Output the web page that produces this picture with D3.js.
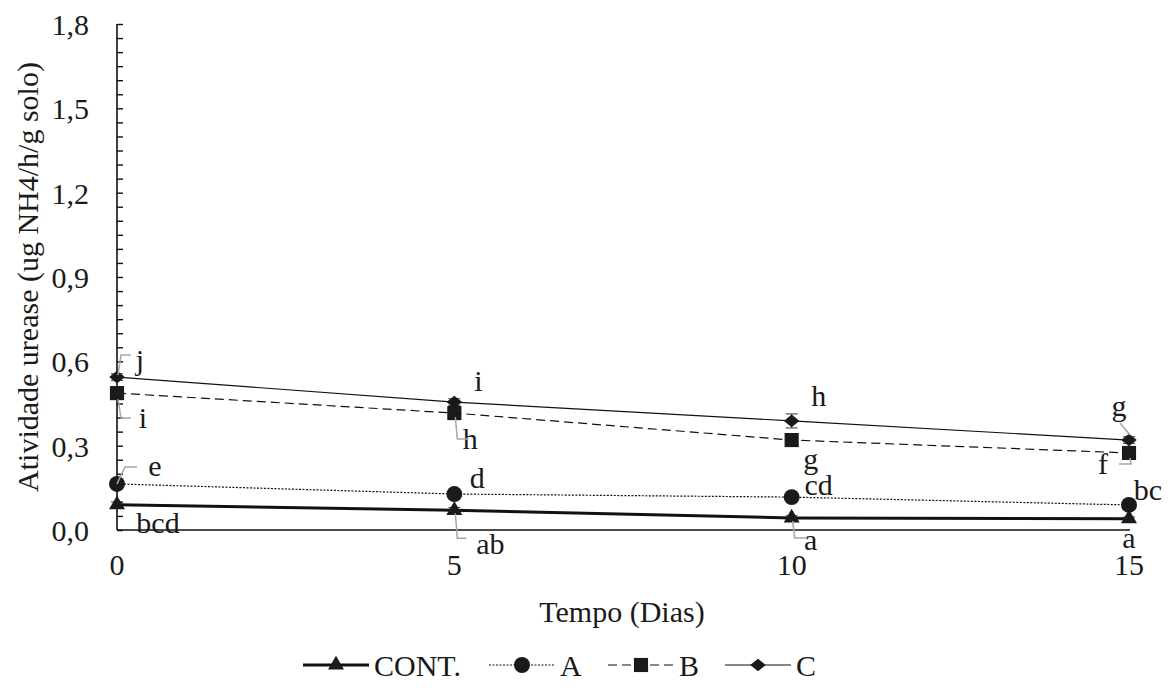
<!DOCTYPE html>
<html lang="en">
<head>
<script src="https://cdn.jsdelivr.net/npm/d3@7"></script>
</head>
<body style="margin:0">
<svg id="chart" width="1175" height="699"></svg>
<script>
var days = [0, 5, 10, 15];
var yTicks = [0, 0.3, 0.6, 0.9, 1.2, 1.5, 1.8];

var contVals = [0.09, 0.07, 0.043, 0.04];
var aVals = [0.164, 0.128, 0.117, 0.089];
var bVals = [0.487, 0.416, 0.32, 0.274];
var cVals = [0.544, 0.455, 0.388, 0.32];

var contErr = [0.01, 0.01, 0.008, 0.006];
var aErr = [0.01, 0.008, 0.008, 0.008];
var bErr = [0.015, 0.012, 0.015, 0.012];
var cErr = [0.012, 0.012, 0.025, 0.012];

var contLetters = ["bcd", "ab", "a", "a"];
var aLetters = ["e", "d", "cd", "bc"];
var bLetters = ["i", "h", "g", "f"];
var cLetters = ["j", "i", "h", "g"];

var fontNames = ["Liberation Serif"];
var FS = 30;

var svg = d3.select("#chart");
var x = d3.scaleLinear().domain([0, 15]).range([117, 1129]);
var y = d3.scaleLinear().domain([0, 1.8]).range([530, 24]);

// wide diamond like the original marker
var diamond = {
  draw: function(ctx, size) {
    var r = Math.sqrt(size) / 2;
    ctx.moveTo(0, -r * 0.85); ctx.lineTo(r * 1.05, 0); ctx.lineTo(0, r * 0.85); ctx.lineTo(-r * 1.05, 0); ctx.closePath();
  }
};

function txt(sel) {
  return sel.attr("font-family", function() { return fontNames[0]; })
    .attr("font-size", FS).attr("fill", "#1a1a1a");
}

// axes
var yAxis = svg.append("g").attr("transform", "translate(117,0)")
  .call(d3.axisRight(y).tickValues(d3.range(0, 1.8001, 0.05)).tickSize(6).tickFormat(""));
yAxis.select(".domain").attr("d", "M0,24V530").attr("stroke", "#111").attr("stroke-width", 1.6);
yAxis.selectAll(".tick line").attr("stroke", "#111").attr("stroke-width", 1.4);

svg.append("line").attr("x1", 117).attr("x2", 1130).attr("y1", 530).attr("y2", 530)
  .attr("stroke", "#111").attr("stroke-width", 1.6);

txt(svg.selectAll(".ylab").data(yTicks).enter().append("text"))
  .attr("x", 89).attr("y", function(d) { return y(d) + 11; })
  .attr("text-anchor", "end")
  .text(function(d) { return d3.format(".1f")(d).replace(".", ","); });

txt(svg.selectAll(".xlab").data(days).enter().append("text"))
  .attr("x", function(d) { return x(d); }).attr("y", 575)
  .attr("text-anchor", "middle")
  .text(function(d) { return d; });

txt(svg.append("text")).attr("x", 622).attr("y", 622).attr("text-anchor", "middle")
  .text("Tempo (Dias)");
txt(svg.append("text")).attr("transform", "translate(38,277) rotate(-90)")
  .attr("text-anchor", "middle")
  .text("Atividade urease (ug NH4/h/g solo)");

var series = [
  { name: "CONT.", vals: contVals, err: contErr, width: 3, dash: null, sym: d3.symbolTriangle, size: 110 },
  { name: "A", vals: aVals, err: aErr, width: 1.2, dash: "2,1.5", sym: d3.symbolCircle, size: 200 },
  { name: "B", vals: bVals, err: bErr, width: 1.2, dash: "9,5", sym: d3.symbolSquare, size: 200 },
  { name: "C", vals: cVals, err: cErr, width: 1.2, dash: null, sym: diamond, size: 220 }
];

var line = d3.line().x(function(d, i) { return x(days[i]); }).y(function(d) { return y(d); });

series.forEach(function(s) {
  svg.append("path").datum(s.vals).attr("d", line).attr("fill", "none")
    .attr("stroke", "#111").attr("stroke-width", s.width)
    .attr("stroke-dasharray", s.dash);
});

// error bars
series.forEach(function(s) {
  s.vals.forEach(function(v, i) {
    var cx = x(days[i]);
    var g = svg.append("g").attr("stroke", "#555").attr("stroke-width", 1.2);
    g.append("line").attr("x1", cx).attr("x2", cx).attr("y1", y(v - s.err[i])).attr("y2", y(v + s.err[i]));
    [v - s.err[i], v + s.err[i]].forEach(function(e) {
      g.append("line").attr("x1", cx - 6).attr("x2", cx + 6).attr("y1", y(e)).attr("y2", y(e));
    });
  });
});

series.forEach(function(s) {
  svg.selectAll(null).data(s.vals).enter().append("path")
    .attr("d", d3.symbol().type(s.sym).size(s.size))
    .attr("transform", function(d, i) { return "translate(" + x(days[i]) + "," + y(d) + ")"; })
    .attr("fill", "#1a1a1a");
});

// letter labels: offsets of the letter's centre relative to the point
var labelSpecs = [
  { letters: cLetters, vals: cVals, off: [[23, -15], [24, -19], [27, -23], [-10, -32]],
    lead: [[[1, -2], [4, -22], [14, -22]], null, null, [[-9, -17], [1, -5]]] },
  { letters: bLetters, vals: bVals, off: [[26, 27], [16, 28], [19, 21], [-26, 13]],
    lead: [[[1, 6], [4, 25], [14, 25]], [[1, 4], [3, 26], [14, 26]], null, [[1, 5], [2, 11], [-10, 11]]] },
  { letters: aLetters, vals: aVals, off: [[38, -16], [23, -14], [27, -10], [19, -13]],
    lead: [[[0, 0], [8, -17], [20, -17]], null, null, null] },
  { letters: contLetters, vals: contVals, off: [[41, 20], [36, 36], [19, 24], [0, 21]],
    lead: [null, [[1, 3], [3, 28], [12, 28]], [[1, 3], [3, 20], [15, 20]], null] }
];

labelSpecs.forEach(function(spec) {
  spec.vals.forEach(function(v, i) {
    var px = x(days[i]), py = y(v);
    txt(svg.append("text")).attr("x", px + spec.off[i][0]).attr("y", py + spec.off[i][1] + 8)
      .attr("text-anchor", "middle").text(spec.letters[i]);
    if (spec.lead[i]) {
      svg.append("path")
        .attr("d", d3.line()(spec.lead[i].map(function(p) { return [px + p[0], py + p[1]]; })))
        .attr("fill", "none").attr("stroke", "#a6a6a6").attr("stroke-width", 1.5);
    }
  });
});

// legend
var legendX = [303, 489, 608, 725];
var legend = svg.append("g");
series.forEach(function(s, i) {
  var lx = legendX[i], ly = 665;
  legend.append("line").attr("x1", lx).attr("x2", lx + 66).attr("y1", ly).attr("y2", ly)
    .attr("stroke", "#111").attr("stroke-width", s.width).attr("stroke-dasharray", s.dash);
  legend.append("path").attr("d", d3.symbol().type(s.sym).size(s.size))
    .attr("transform", "translate(" + (lx + 33) + "," + ly + ")").attr("fill", "#1a1a1a");
  txt(legend.append("text")).attr("x", lx + 71).attr("y", ly + 11).text(s.name);
});
</script>
</body>
</html>
